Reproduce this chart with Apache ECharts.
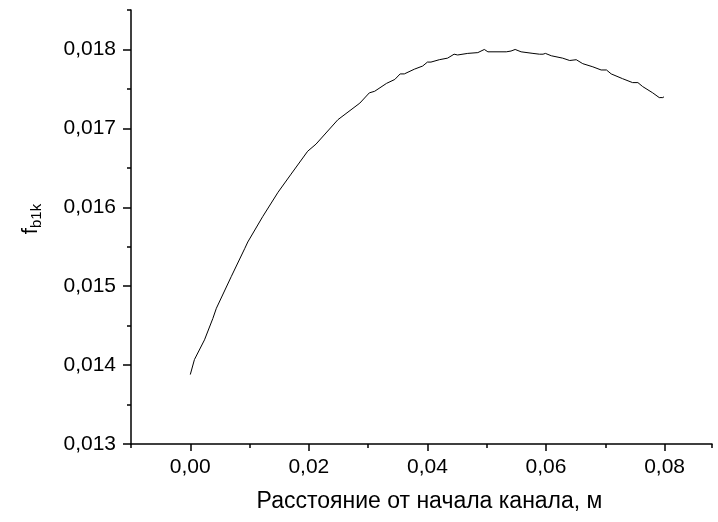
<!DOCTYPE html>
<html>
<head>
<meta charset="utf-8">
<script src="https://cdn.jsdelivr.net/npm/echarts@6/dist/echarts.min.js"></script>
<style>
  html, body { margin: 0; padding: 0; background: #fff; }
  #chart { width: 718px; height: 522px; }
</style>
</head>
<body>
<div id="chart"></div>
<script>
// Distance along the channel, m
const distance = [
  0.0000, 0.0007, 0.0024, 0.0038, 0.0044, 0.0069, 0.0092, 0.0097, 0.0122, 0.0148,
  0.0170, 0.0198, 0.0212, 0.0249, 0.0286, 0.0302, 0.0311, 0.0331, 0.0345, 0.0354,
  0.0361, 0.0378, 0.0392, 0.0400, 0.0406, 0.0420, 0.0434, 0.0445, 0.0451, 0.0468,
  0.0485, 0.0496, 0.0502, 0.0533, 0.0541, 0.0548, 0.0558, 0.0578, 0.0589, 0.0595,
  0.0599, 0.0609, 0.0628, 0.0640, 0.0651, 0.0662, 0.0679, 0.0693, 0.0702, 0.0710,
  0.0729, 0.0746, 0.0755, 0.0763, 0.0780, 0.0791, 0.0797, 0.0799
];
// Friction coefficient f_b1k
const fb1k = [
  0.01388, 0.01407, 0.01432, 0.01459, 0.01472, 0.01512, 0.01548, 0.01556, 0.01588, 0.01619,
  0.01642, 0.01671, 0.01680, 0.01711, 0.01732, 0.01745, 0.01747, 0.01757, 0.01762, 0.01769,
  0.01769, 0.01775, 0.01779, 0.01784, 0.01784, 0.01787, 0.01789, 0.01794, 0.01793, 0.01795,
  0.01796, 0.01800, 0.01797, 0.01797, 0.01798, 0.01800, 0.01797, 0.01795, 0.01794, 0.01794,
  0.01795, 0.01792, 0.01789, 0.01786, 0.01787, 0.01782, 0.01778, 0.01774, 0.01774, 0.01769,
  0.01763, 0.01758, 0.01758, 0.01753, 0.01745, 0.01739, 0.01739, 0.01740
];
const xTickValues = [0, 0.02, 0.04, 0.06, 0.08];
const yTickValues = [0.013, 0.014, 0.015, 0.016, 0.017, 0.018];

const font = "'Liberation Sans', Arial, sans-serif";
const black = '#000';

const chart = echarts.init(document.getElementById('chart'));
chart.setOption({
  backgroundColor: '#fff',
  animation: false,
  grid: { left: 131, right: 6, top: 10, bottom: 78, containLabel: false },
  xAxis: [
    {
      type: 'value',
      min: -0.01,
      max: 0.088,
      position: 'bottom',
      name: 'Расстояние от начала канала, м',
      nameLocation: 'middle',
      nameGap: 46,
      nameTextStyle: { color: black, fontFamily: font, fontSize: 23, padding: [0, 0, 0, 16] },
      axisLine: { show: true, onZero: false, lineStyle: { color: black, width: 1.5 } },
      axisTick: { show: true, length: 7, customValues: xTickValues, lineStyle: { color: black, width: 1.5 } },
      axisLabel: {
        show: true, customValues: xTickValues, margin: 13,
        color: black, fontFamily: font, fontSize: 21,
        formatter: v => v.toFixed(2).replace('.', ',')
      },
      splitLine: { show: false }
    },
    {
      type: 'value',
      min: -0.01,
      max: 0.088,
      interval: 0.01,
      position: 'bottom',
      axisLine: { show: false, onZero: false },
      axisTick: { show: true, length: 4, lineStyle: { color: black, width: 1.5 } },
      axisLabel: { show: false },
      splitLine: { show: false }
    }
  ],
  yAxis: [
    {
      type: 'value',
      min: 0.013,
      max: 0.0185,
      position: 'left',
      name: '{f|f}{s|b1k}',
      nameLocation: 'middle',
      nameGap: 87,
      nameRotate: 90,
      nameTextStyle: {
        color: black, fontFamily: font, padding: [0, 0, 0, 16],
        rich: {
          f: { fontSize: 22, fontFamily: font, color: black, lineHeight: 24, verticalAlign: 'top' },
          s: { fontSize: 15, fontFamily: font, color: black, lineHeight: 17, verticalAlign: 'bottom' }
        }
      },
      axisLine: { show: true, onZero: false, lineStyle: { color: black, width: 1.5 } },
      axisTick: { show: true, length: 8, customValues: yTickValues, lineStyle: { color: black, width: 1.5 } },
      axisLabel: {
        show: true, customValues: yTickValues, margin: 15,
        color: black, fontFamily: font, fontSize: 21,
        formatter: v => v.toFixed(3).replace('.', ',')
      },
      splitLine: { show: false }
    },
    {
      type: 'value',
      min: 0.013,
      max: 0.0185,
      interval: 0.0005,
      position: 'left',
      axisLine: { show: false, onZero: false },
      axisTick: { show: true, length: 4, lineStyle: { color: black, width: 1.5 } },
      axisLabel: { show: false },
      splitLine: { show: false }
    }
  ],
  series: [
    {
      type: 'line',
      xAxisIndex: 0,
      yAxisIndex: 0,
      data: distance.map((d, i) => [d, fb1k[i]]),
      showSymbol: false,
      symbol: 'none',
      smooth: false,
      lineStyle: { color: black, width: 1 }
    }
  ]
});
</script>
</body>
</html>
